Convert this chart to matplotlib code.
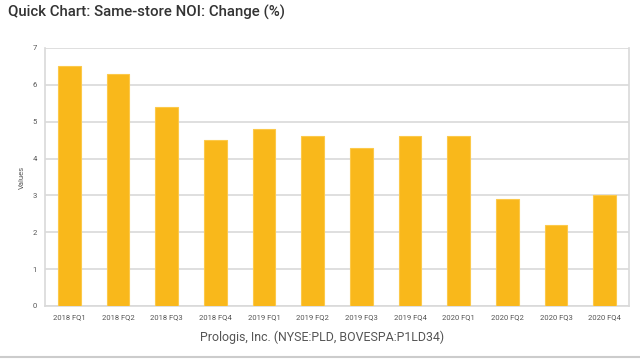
import numpy as np
import matplotlib.pyplot as plt
from matplotlib.lines import Line2D

quarters = ["2018 FQ1", "2018 FQ2", "2018 FQ3", "2018 FQ4",
            "2019 FQ1", "2019 FQ2", "2019 FQ3", "2019 FQ4",
            "2020 FQ1", "2020 FQ2", "2020 FQ3", "2020 FQ4"]
noi_change = [6.5, 6.3, 5.4, 4.5, 4.8, 4.6, 4.3, 4.6, 4.6, 2.9, 2.2, 3.0]

plt.rcParams['font.family'] = ['Roboto', 'DejaVu Sans']

fig = plt.figure(figsize=(6.4, 3.6), dpi=100)
ax = fig.add_axes([45 / 640, 54 / 360, 584 / 640, 258 / 360])

x = np.arange(len(quarters))
ax.bar(x, noi_change, width=0.47, color="#f9b81b", edgecolor="#fcc94a",
       linewidth=0.8, zorder=3)

ax.set_xlim(-0.5, len(quarters) - 0.5)
ax.set_ylim(0, 7)
ax.set_yticks(range(8))
ax.set_xticks(x)
ax.set_xticklabels(quarters)
ax.tick_params(axis="both", labelsize=5.5, colors="#555555", length=0, pad=6)
ax.grid(axis="y", color="#d9d9d9", linewidth=1.2, zorder=0)
for s in ax.spines.values():
    s.set_color("#d9d9d9")
    s.set_linewidth(1.2)
ax.spines["top"].set_visible(False)
ax.set_ylabel("Values", fontsize=5.5, color="#555555", labelpad=5)

fig.text(8 / 640, 1 - 17 / 360, "Quick Chart: Same-store NOI: Change (%)",
         fontsize=10.8, fontweight="medium", color="#333333", va="baseline")
fig.text(322 / 640, 1 - 341 / 360, "Prologis, Inc. (NYSE:PLD, BOVESPA:P1LD34)",
         fontsize=8.9, color="#555555", ha="center", va="baseline")
fig.add_artist(Line2D([0, 1], [1 - 357 / 360] * 2, color="#cccccc",
                      linewidth=1.5, transform=fig.transFigure))

plt.savefig("out.png", dpi=100)
